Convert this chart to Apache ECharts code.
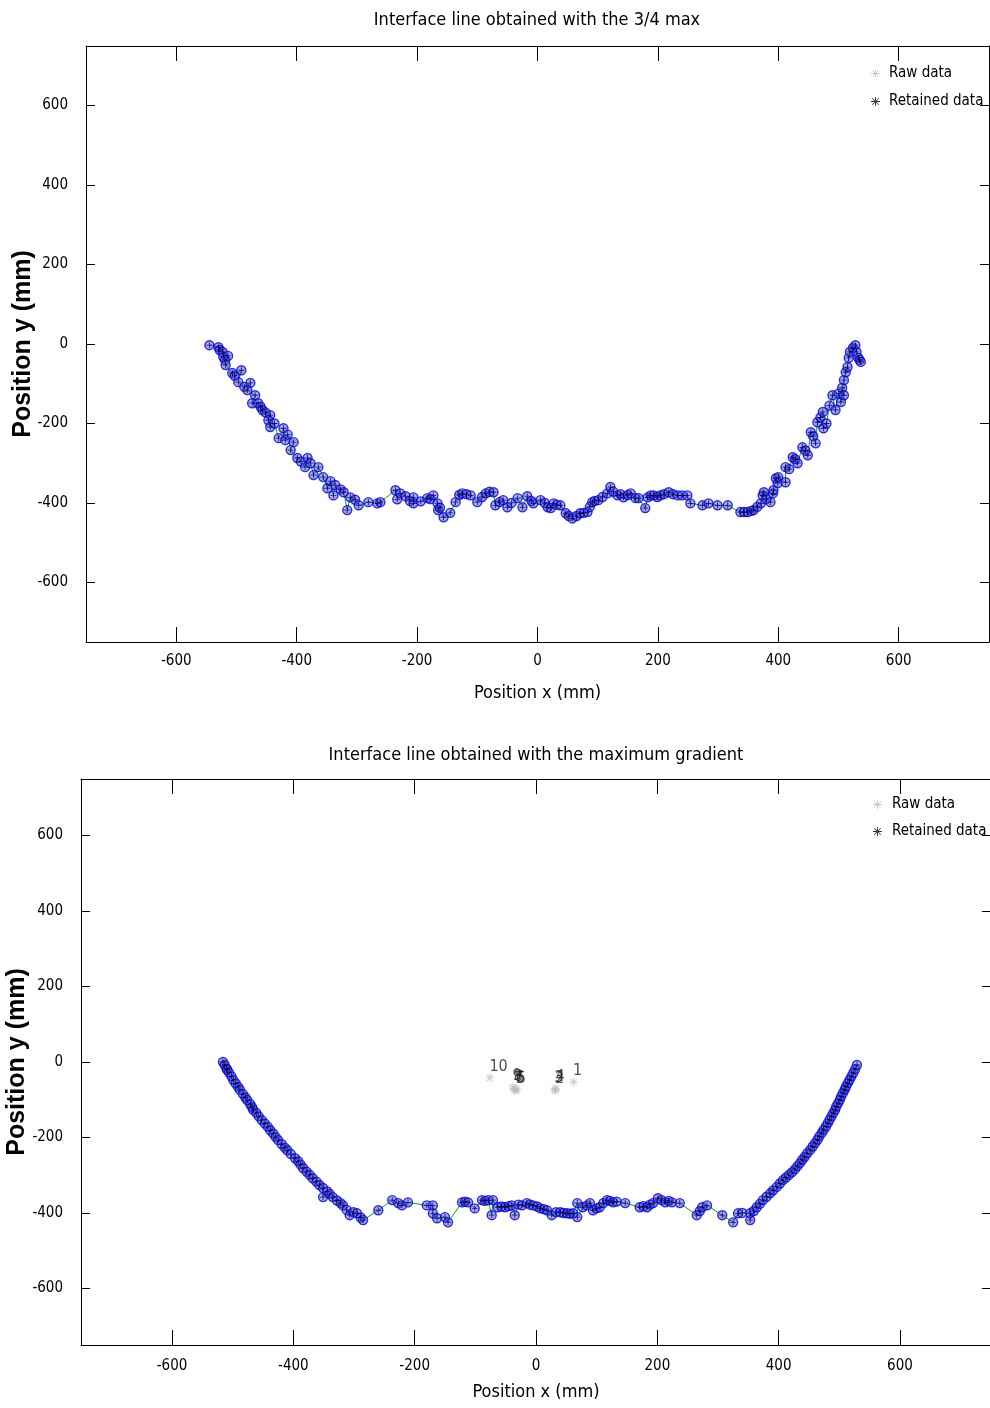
<!DOCTYPE html>
<html><head><meta charset="utf-8">
<script src="https://cdn.jsdelivr.net/npm/echarts@6/dist/echarts.min.js"></script>
<style>html,body{margin:0;padding:0;background:#fff}#c{width:990px;height:1408px}</style>
</head><body><div id="c"></div><script>
// ---------- DATA ----------
const titles = ['Interface line obtained with the 3/4 max', 'Interface line obtained with the maximum gradient'];
const xName = 'Position x (mm)';
const yName = 'Position y (mm)';
const tickValues = [-600, -400, -200, 0, 200, 400, 600];

// Top plot (3/4 max): retained points [x, y] in mm
const topRetained = [
[-545,-3],[-530,-8],[-528,-15],[-523,-20],[-522,-33],[-514,-30],[-519,-40],[-518,-53],[-507,-73],[-503,-80],
[-492,-66],[-497,-96],[-487,-108],[-477,-98],[-482,-116],[-469,-129],[-474,-149],[-464,-149],[-460,-158],[-457,-166],
[-452,-172],[-444,-179],[-447,-192],[-444,-209],[-437,-200],[-430,-237],[-422,-212],[-419,-242],[-415,-228],[-405,-247],
[-410,-267],[-399,-287],[-393,-296],[-386,-310],[-382,-287],[-377,-300],[-372,-330],[-364,-310],[-356,-335],[-349,-363],
[-344,-345],[-339,-381],[-336,-355],[-327,-366],[-322,-373],[-316,-418],[-311,-386],[-303,-392],[-297,-406],[-281,-398],
[-266,-401],[-261,-398],[-236,-368],[-233,-391],[-228,-376],[-219,-383],[-212,-395],[-206,-386],[-206,-401],[-194,-396],
[-183,-388],[-178,-390],[-173,-381],[-166,-401],[-165,-418],[-162,-412],[-156,-436],[-145,-425],[-136,-398],[-130,-380],
[-125,-376],[-118,-378],[-111,-381],[-100,-398],[-92,-385],[-86,-376],[-80,-372],[-73,-373],[-70,-406],[-63,-398],
[-57,-393],[-50,-411],[-43,-400],[-33,-388],[-25,-411],[-17,-383],[-10,-395],[-7,-401],[5,-393],[12,-400],
[17,-411],[22,-413],[27,-401],[32,-405],[38,-406],[47,-426],[52,-433],[58,-439],[65,-433],[71,-426],
[77,-425],[83,-423],[87,-410],[91,-398],[95,-395],[101,-393],[108,-385],[116,-376],[121,-360],[126,-372],
[133,-381],[138,-378],[143,-386],[150,-380],[155,-376],[163,-388],[168,-388],[179,-413],[183,-386],[188,-381],
[193,-381],[199,-385],[204,-381],[210,-378],[218,-373],[225,-378],[233,-381],[240,-381],[249,-381],[254,-401],
[274,-406],[284,-401],[299,-406],[316,-406],[337,-423],[343,-423],[349,-423],[355,-420],[359,-418],[365,-410],
[371,-401],[374,-381],[376,-373],[380,-390],[387,-398],[391,-376],[392,-368],[396,-338],[399,-350],[400,-335],
[412,-348],[412,-310],[418,-315],[424,-285],[428,-290],[432,-300],[440,-260],[445,-268],[449,-280],[454,-222],
[458,-232],[462,-250],[465,-197],[470,-185],[474,-171],[475,-212],[480,-200],[485,-155],[490,-129],[495,-166],
[500,-125],[504,-146],[506,-110],[509,-129],[509,-91],[512,-71],[515,-58],[517,-35],[519,-20],[524,-10],
[528,-3],[530,-20],[533,-35],[535,-40],[537,-45]
];
const topRaw = [];

// Bottom plot (maximum gradient): retained points [x, y] in mm
const bottomRetained = [
[-516,0],[-513,-8],[-510,-18],[-509,-21],[-506,-28],[-502,-38],[-499,-48],[-495,-57],[-491,-66],[-488,-74],
[-483,-85],[-479,-94],[-476,-101],[-471,-112],[-468,-120],[-466,-127],[-461,-135],[-457,-144],[-452,-154],[-447,-163],
[-442,-172],[-438,-181],[-433,-190],[-429,-199],[-425,-207],[-419,-218],[-414,-227],[-410,-234],[-404,-244],[-397,-255],
[-392,-263],[-388,-272],[-384,-281],[-378,-291],[-373,-299],[-368,-308],[-362,-317],[-357,-326],[-351,-334],[-351,-358],
[-344,-343],[-340,-350],[-335,-358],[-328,-367],[-322,-374],[-318,-380],[-312,-392],[-307,-406],[-301,-398],[-295,-401],
[-289,-412],[-285,-419],[-260,-393],[-237,-366],[-227,-374],[-221,-380],[-211,-372],[-180,-380],[-170,-380],[-170,-401],
[-163,-414],[-150,-411],[-145,-425],[-122,-372],[-117,-370],[-112,-372],[-101,-388],[-89,-366],[-84,-368],[-79,-366],
[-73,-406],[-71,-366],[-63,-385],[-57,-383],[-51,-385],[-45,-382],[-40,-380],[-35,-406],[-29,-378],[-23,-380],
[-15,-374],[-10,-378],[-5,-380],[2,-383],[7,-388],[13,-390],[18,-393],[26,-406],[33,-398],[40,-398],
[45,-400],[51,-401],[56,-402],[61,-401],[68,-374],[68,-411],[77,-385],[84,-380],[89,-374],[94,-393],
[100,-388],[105,-385],[111,-374],[117,-366],[122,-368],[127,-372],[133,-370],[147,-374],[171,-385],[177,-382],
[183,-385],[188,-378],[193,-374],[201,-361],[207,-366],[213,-372],[219,-368],[224,-372],[237,-374],[265,-406],
[270,-395],[274,-385],[282,-380],[307,-406],[325,-425],[333,-401],[340,-400],[353,-401],[353,-419],[359,-395],
[364,-385],[369,-376],[374,-366],[380,-357],[386,-348],[391,-340],[397,-331],[402,-322],[407,-313],[412,-306],
[417,-299],[422,-292],[427,-284],[431,-276],[435,-268],[439,-259],[443,-251],[447,-242],[452,-233],[456,-224],
[460,-215],[464,-206],[467,-197],[471,-188],[474,-180],[478,-171],[481,-162],[484,-153],[487,-144],[490,-135],
[493,-127],[495,-118],[498,-109],[501,-100],[503,-91],[506,-82],[509,-73],[511,-65],[514,-56],[517,-47],
[520,-38],[523,-29],[526,-19],[529,-8]
];
// Bottom plot raw (rejected) points with their index labels
const bottomRaw = [[62,-53],[32,-76],[31,-73],[33,-70],[-31,-74],[-33,-72],[-35,-76],[-36,-70],[-38,-66],[-76,-42]];
const bottomRawLabels = ['1','2','3','4','5','6','7','8','9','10'];

// ---------- STYLE ----------
const NARROW = "'Liberation Sans Narrow','DejaVu Sans Condensed','Arial Narrow',sans-serif";
const WIDE = "'Liberation Sans','Arial',sans-serif";
const ASTERISK = 'path://M9,0h2v20h-2z M0,9h20v2h-20z M2.2,3.6L3.6,2.2L17.8,16.4L16.4,17.8Z M16.4,2.2L17.8,3.6L3.6,17.8L2.2,16.4Z';
const PLUS = 'path://M8.6,0h2.8v20h-2.8z M0,8.6h20v2.8h-20z';

const grids = [
  {left: 86, width: 903, top: 46, height: 596, outerBoundsMode: 'none', containLabel: false},
  {left: 81, width: 910, top: 779, height: 566, outerBoundsMode: 'none', containLabel: false}
];
const xNameGap = [42, 38];
const xLabelMargin = [12, 14];
const yNameGap = [50, 51];
const titleY = [20, 755];
const titleX = [537, 536];

function xAxes(g) {
  const base = {
    gridIndex: g, type: 'value', min: -750, max: 750,
    axisLine: {show: true, onZero: false, lineStyle: {color: '#000', width: 1}},
    axisTick: {show: true, inside: true, length: 15, customValues: tickValues, lineStyle: {color: '#000'}},
    splitLine: {show: false}
  };
  return [
    Object.assign({}, base, {
      position: 'bottom',
      axisLabel: {show: true, customValues: tickValues, margin: xLabelMargin[g], color: '#000', fontFamily: NARROW, fontSize: 15},
      name: xName, nameLocation: 'middle', nameGap: xNameGap[g], nameMoveOverlap: false,
      nameTextStyle: {color: '#000', fontFamily: NARROW, fontSize: 18}
    }),
    Object.assign({}, base, {position: 'top', axisLabel: {show: false}})
  ];
}
function yAxes(g) {
  const base = {
    gridIndex: g, type: 'value', min: -750, max: 750,
    axisLine: {show: true, onZero: false, lineStyle: {color: '#000', width: 1}},
    axisTick: {show: true, inside: true, length: 9, customValues: tickValues, lineStyle: {color: '#000'}},
    splitLine: {show: false}
  };
  return [
    Object.assign({}, base, {
      position: 'left',
      axisLabel: {show: true, customValues: tickValues, margin: 18, color: '#000', fontFamily: NARROW, fontSize: 15},
      name: yName, nameLocation: 'middle', nameGap: yNameGap[g], nameRotate: 90, nameMoveOverlap: false,
      nameTextStyle: {color: '#000', fontFamily: WIDE, fontSize: 25, fontWeight: 'bold'}
    }),
    Object.assign({}, base, {position: 'right', axisLabel: {show: false}})
  ];
}

function plotSeries(g, retained, raw, rawLabels) {
  const xi = g * 2, yi = g * 2;
  return [
    {type: 'line', name: 'fit' + g, xAxisIndex: xi, yAxisIndex: yi, data: retained, showSymbol: false,
     lineStyle: {color: '#10a010', width: 1}, silent: true, z: 2, animation: false},
    {type: 'scatter', name: 'Raw data', xAxisIndex: xi, yAxisIndex: yi, data: raw, symbol: ASTERISK, symbolSize: 9,
     itemStyle: {color: '#bdbdbd'}, z: 1, animation: false,
     label: {show: !!rawLabels, position: [4, -15], color: '#222', fontFamily: NARROW, fontSize: 16,
             formatter: p => rawLabels ? rawLabels[p.dataIndex] : ''}},
    {type: 'scatter', name: 'ring' + g, xAxisIndex: xi, yAxisIndex: yi, data: retained, symbol: 'circle', symbolSize: 9,
     itemStyle: {color: 'rgba(70,70,255,0.6)', borderColor: '#0000e0', borderWidth: 1.4}, z: 3, animation: false},
    {type: 'scatter', name: 'Retained data', xAxisIndex: xi, yAxisIndex: yi, data: retained, symbol: PLUS, symbolSize: 6,
     itemStyle: {color: '#000'}, z: 4, animation: false}
  ];
}

const legendData = [{name: 'Raw data', icon: ASTERISK}, {name: 'Retained data', icon: ASTERISK}];
const chart = echarts.init(document.getElementById('c'), null, {renderer: 'canvas'});
chart.setOption({
  animation: false,
  backgroundColor: '#fff',
  grid: grids,
  xAxis: [...xAxes(0), ...xAxes(1)],
  yAxis: [...yAxes(0), ...yAxes(1)],
  legend: [
    {data: legendData, orient: 'vertical', left: 866, top: 61, itemWidth: 9, itemHeight: 9, itemGap: 13,
     textStyle: {color: '#000', fontFamily: NARROW, fontSize: 15, padding: [0, 0, 0, 4]}, selectedMode: false},
    {data: legendData, orient: 'vertical', left: 868, top: 792, itemWidth: 9, itemHeight: 9, itemGap: 12,
     textStyle: {color: '#000', fontFamily: NARROW, fontSize: 15, padding: [0, 0, 0, 5]}, selectedMode: false}
  ],
  graphic: titles.map((t, i) => ({
    type: 'text', x: titleX[i], y: titleY[i],
    style: {text: t, fill: '#000', font: '18px ' + NARROW, textAlign: 'center', textVerticalAlign: 'middle'}
  })),
  series: [...plotSeries(0, topRetained, topRaw, null), ...plotSeries(1, bottomRetained, bottomRaw, bottomRawLabels)]
});
</script></body></html>
